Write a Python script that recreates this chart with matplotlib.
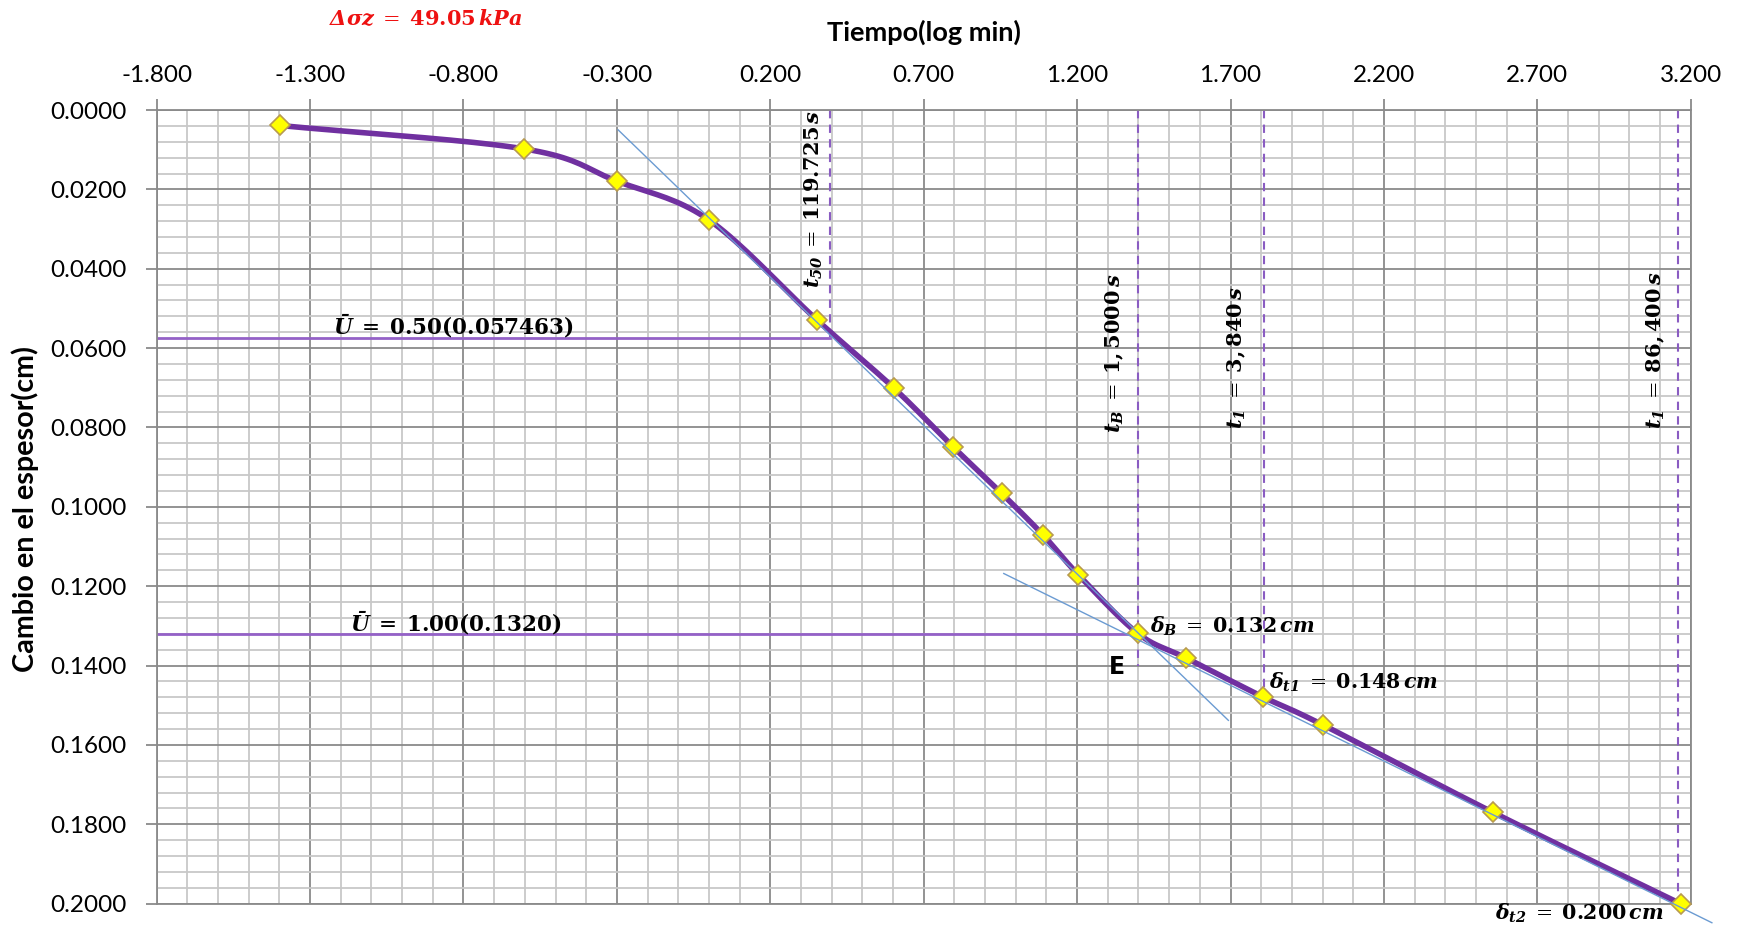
import numpy as np
import matplotlib
matplotlib.use("Agg")
import matplotlib.pyplot as plt
from matplotlib.ticker import FixedLocator, MultipleLocator, FormatStrFormatter

# Data (log time in min, settlement in cm)
log_t = [-1.398, -0.602, -0.301, 0.0, 0.352, 0.602, 0.796, 0.954, 1.088, 1.204,
         1.398, 1.556, 1.806, 2.0, 2.556, 3.167]
delta = [0.0039, 0.0098, 0.0179, 0.0277, 0.0529, 0.0700, 0.0849, 0.0966, 0.1070,
         0.1171, 0.1319, 0.1381, 0.1479, 0.1549, 0.1770, 0.2000]

x_ticks = [-1.8, -1.3, -0.8, -0.3, 0.2, 0.7, 1.2, 1.7, 2.2, 2.7, 3.2]

# tangent lines
tan1_x = [-0.296, 1.693]
tan1_y = [0.0050, 0.1538]
tan2_x = [0.961, 3.269]
tan2_y = [0.1168, 0.2048]

# reference lines
u50_y = 0.057463
u100_y = 0.1320
x_t50 = 0.396
x_tB = 1.399
x_t1 = 1.809
x_t2 = 3.16

plt.rcParams['mathtext.fontset'] = 'dejavuserif'


def smooth(x, y, n=20):
    # Catmull-Rom style smoothing like Excel's "smoothed line"
    x = np.asarray(x, float)
    y = np.asarray(y, float)
    px = np.concatenate([[2 * x[0] - x[1]], x, [2 * x[-1] - x[-2]]])
    py = np.concatenate([[2 * y[0] - y[1]], y, [2 * y[-1] - y[-2]]])
    xs, ys = [], []
    for i in range(1, len(px) - 2):
        t = np.linspace(0, 1, n, endpoint=False)
        for arr, out in ((px, xs), (py, ys)):
            p0, p1, p2, p3 = arr[i - 1], arr[i], arr[i + 1], arr[i + 2]
            out.extend(0.5 * ((2 * p1) + (-p0 + p2) * t
                              + (2 * p0 - 5 * p1 + 4 * p2 - p3) * t ** 2
                              + (-p0 + 3 * p1 - 3 * p2 + p3) * t ** 3))
    xs.append(x[-1])
    ys.append(y[-1])
    return xs, ys


fig = plt.figure(figsize=(17.43, 9.30), dpi=100)
ax = fig.add_axes([0.0899, 0.0283, 0.8801, 0.8534])

ax.set_xlim(-1.8, 3.2)
ax.set_ylim(0.2, 0.0)
ax.xaxis.tick_top()
ax.xaxis.set_label_position('top')
ax.xaxis.set_major_locator(FixedLocator(x_ticks))
ax.xaxis.set_minor_locator(MultipleLocator(0.1))
ax.yaxis.set_major_locator(MultipleLocator(0.02))
ax.yaxis.set_minor_locator(MultipleLocator(0.004))
ax.xaxis.set_major_formatter(FormatStrFormatter('%.3f'))
ax.yaxis.set_major_formatter(FormatStrFormatter('%.4f'))

ax.grid(which='minor', color='#c8c8c8', lw=1.3)
ax.grid(which='major', color='#8a8a8a', lw=1.3)
ax.set_axisbelow(True)
for s in ax.spines.values():
    s.set_color('#8a8a8a')
    s.set_linewidth(1.3)

ax.tick_params(which='major', length=8, color='#8a8a8a', width=1.3,
               labelsize=17.5)
ax.tick_params(axis='x', which='major', pad=9)
ax.tick_params(axis='y', which='major', pad=14)
ax.tick_params(which='minor', length=0)
for lab in ax.get_xticklabels() + ax.get_yticklabels():
    lab.set_family('Lato')

ax.set_xlabel('Tiempo(log min)', fontsize=19.5, fontweight='bold', family='Lato')
ax.xaxis.set_label_coords(0.5, 1.087)
fig.text(0.0145, 0.453, 'Cambio en el espesor(cm)', fontsize=20.7,
         fontweight='bold', family='Lato', rotation=90, ha='center', va='center')

# horizontal U lines
ax.plot([-1.8, x_t50], [u50_y, u50_y], color='#9461c7', lw=2)
ax.plot([-1.8, x_tB], [u100_y, u100_y], color='#9461c7', lw=2)

# vertical dashed lines
dash_c = '#8a5cc2'
ax.plot([x_t50, x_t50], [0, u50_y], color=dash_c, lw=1.5, ls=(0, (4, 3)))
ax.plot([x_tB, x_tB], [0, 0.140], color=dash_c, lw=1.5, ls=(0, (4, 3)))
ax.plot([x_t1, x_t1], [0, 0.148], color=dash_c, lw=1.5, ls=(0, (4, 3)))
ax.plot([x_t2, x_t2], [0, 0.2], color=dash_c, lw=1.5, ls=(0, (4, 3)))

# smooth curve + markers
sx, sy = smooth(log_t, delta)
ax.plot(sx, sy, color='#7030a0', lw=4, zorder=4)
ax.plot(log_t, delta, ls='none', marker='D', ms=10.5, mfc='#ffff00',
        mec='#b89a50', mew=1.2, zorder=5, clip_on=False)

# tangents
ax.plot(tan1_x, tan1_y, color='#6b9bd2', lw=1, zorder=6, clip_on=False)
ax.plot(tan2_x, tan2_y, color='#6b9bd2', lw=1, zorder=6, clip_on=False)

# annotations
fs = 15.5
ax.text(-1.224, 0.0566, r'$\mathbfit{\bar{U}}\;=\;\mathbf{0.50(0.057463)}$',
        fontsize=fs, va='baseline', ha='left')
ax.text(-1.170, 0.1314, r'$\mathbfit{\bar{U}}\;=\;\mathbf{1.00(0.1320)}$',
        fontsize=fs, va='baseline', ha='left')
fd = 14.8
ax.text(1.439, 0.1300, r'$\mathbfit{\delta_B}\;=\;\mathbf{0.132}\,\mathbfit{cm}$',
        fontsize=fd, va='center', ha='left')
ax.text(1.827, 0.1443, r'$\mathbfit{\delta_{t1}}\;=\;\mathbf{0.148}\,\mathbfit{cm}$',
        fontsize=fd, va='center', ha='left')
ax.text(2.562, 0.2025, r'$\mathbfit{\delta_{t2}}\;=\;\mathbf{0.200}\,\mathbfit{cm}$',
        fontsize=fd, va='center', ha='left', clip_on=False)
ax.text(1.330, 0.1403, 'E', fontsize=17, fontweight='bold', family='DejaVu Sans',
        va='center', ha='center')

fr = 15
ax.text(0.341, 0.0225, r'$\mathbfit{t_{50}}\;=\;\mathbf{119.725}\,\mathbfit{s}$',
        fontsize=fr, rotation=90, va='center', ha='center')
ax.text(1.323, 0.0613, r'$\mathbfit{t_B}\;=\;\mathbf{1,5000}\,\mathbfit{s}$',
        fontsize=fr, rotation=90, va='center', ha='center')
ax.text(1.722, 0.0625, r'$\mathbfit{t_1}\;=\;\mathbf{3,840}\,\mathbfit{s}$',
        fontsize=fr, rotation=90, va='center', ha='center')
ax.text(3.088, 0.0605, r'$\mathbfit{t_1}\;=\;\mathbf{86,400}\,\mathbfit{s}$',
        fontsize=fr, rotation=90, va='center', ha='center')

fig.text(0.2445, 0.980, r'$\mathbfit{\Delta\sigma z}\;=\;\mathbf{49.05}\,\mathbfit{kPa}$',
         fontsize=15, color='#ee1111', va='center', ha='center')

fig.savefig('out.png', dpi=100)
